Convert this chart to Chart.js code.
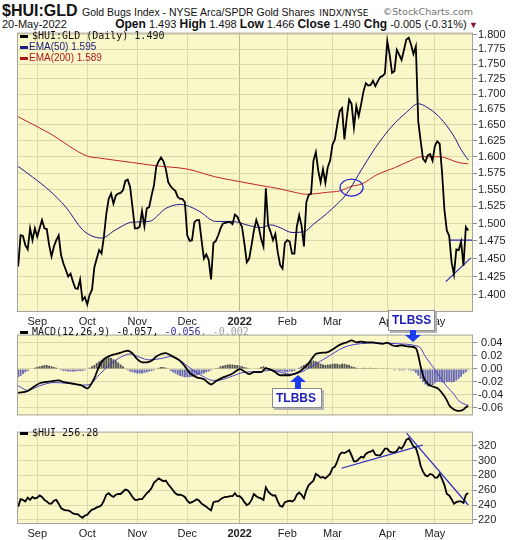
<!DOCTYPE html>
<html>
<head>
<meta charset="utf-8">
<script src="https://cdn.jsdelivr.net/npm/chart.js@4.4.0/dist/chart.umd.min.js"></script>
<style>
  body { margin: 0; width: 520px; height: 540px; background: #fff; position: relative; overflow: hidden;
         font-family: "Liberation Sans", Arial, sans-serif; color: #111; }
  .abs { position: absolute; white-space: nowrap; }
  canvas { position: absolute; left: 0; }
  .mono { font-family: "DejaVu Sans Mono", monospace; font-size: 10px; }
  .dash { display: inline-block; width: 8px; height: 3px; vertical-align: middle; margin-right: 4px; }
  .note { position: absolute; background: #fff; border: 1px solid #8c8c8c; box-shadow: 2px 2px 0 #b4b4b4;
          color: #1e1eb0; font-weight: bold; font-size: 12px; line-height: 18px; padding-left: 3px; z-index: 5; }
  svg { position: absolute; z-index: 6; }
</style>
</head>
<body>
<div class="abs" style="left:2px;top:2px;">
  <b style="font-size:16px;">$HUI:GLD</b>
  <span style="font-size:10.5px;">Gold Bugs Index - NYSE Arca/SPDR Gold Shares</span>
  <span style="font-family:'DejaVu Sans';font-size:9px;">INDX/NYSE</span>
</div>
<div class="abs" style="right:47px;top:6px;font-family:'DejaVu Sans';font-size:9.5px;color:#707070;">&copy;StockCharts.com</div>
<div class="abs" style="left:2px;top:18px;font-size:11px;">20-May-2022</div>
<div class="abs" style="right:42px;top:17px;font-size:11px;">
  <b style="font-size:12px;">Open</b> 1.493 <b style="font-size:12px;">High</b> 1.498 <b style="font-size:12px;">Low</b> 1.466
  <b style="font-size:12px;">Close</b> 1.490 <b style="font-size:12px;">Chg</b> -0.005 (-0.31%)<span style="color:#8b1030;font-size:9px;"> &#9660;</span>
</div>

<canvas id="mainChart" width="520" height="302" style="top:25px;"></canvas>
<canvas id="macdChart" width="520" height="96" style="top:327px;"></canvas>
<canvas id="huiChart" width="520" height="116" style="top:424px;"></canvas>

<div class="abs mono" style="left:20px;top:30px;line-height:11px;z-index:4;">
  <div><span class="dash" style="background:#000;"></span>$HUI:GLD (Daily) 1.490</div>
  <div style="font-family:'Liberation Sans';font-size:10px;color:#1a1a80;"><span class="dash" style="background:#1a1a80;margin-right:1px;"></span>EMA(50) 1.595</div>
  <div style="font-family:'Liberation Sans';font-size:10px;color:#b01818;"><span class="dash" style="background:#b01818;margin-right:1px;"></span>EMA(200) 1.589</div>
</div>
<div class="abs mono" style="left:20px;top:326px;line-height:11px;z-index:4;">
  <span class="dash" style="background:#000;"></span>MACD(12,26,9) -0.057, <span style="color:#3a2f9e;">-0.056</span><span style="color:#a0a0a0;">, -0.002</span>
</div>
<div class="abs mono" style="left:20px;top:427px;line-height:11px;z-index:4;">
  <span class="dash" style="background:#000;"></span>$HUI 256.28
</div>

<div class="note" style="left:388px;top:310px;width:42px;height:19px;">TLBSS</div>
<svg style="left:405px;top:330px;" width="16" height="12"><polygon points="5,0 11,0 11,5 16,5 8,12 0,5 5,5" fill="#1d3cf2"/></svg>
<div class="note" style="left:272px;top:388px;width:45px;height:18px;">TLBBS</div>
<svg style="left:290px;top:375px;" width="16" height="14"><polygon points="8,0 16,7 11,7 11,14 5,14 5,7 0,7" fill="#1d3cf2"/></svg>

<script>
// trading-day index 0 = 20-Aug-2021 ... 189 = 20-May-2022
const monthTickIdx = [8, 29, 50, 71, 93, 113, 132, 155, 175];
const monthTickLbl = ['Sep', 'Oct', 'Nov', 'Dec', '2022', 'Feb', 'Mar', 'Apr', 'May'];

const ratioTicks = [1.400, 1.425, 1.450, 1.475, 1.500, 1.525, 1.550, 1.575, 1.600, 1.625, 1.650, 1.675, 1.700, 1.725, 1.750, 1.775, 1.800];
const macdTicks = [-0.06, -0.04, -0.02, 0, 0.02, 0.04];
const huiTicks = [220, 240, 260, 280, 300, 320];

// $HUI:GLD daily close
const hlgClose = [
  1.439, 1.483, 1.482, 1.469, 1.463, 1.493, 1.476, 1.493, 1.481, 1.493,
  1.505, 1.493, 1.492, 1.469, 1.453, 1.467, 1.476, 1.483, 1.455, 1.443,
  1.434, 1.425, 1.429, 1.418, 1.409, 1.408, 1.421, 1.393, 1.397, 1.387,
  1.400, 1.407, 1.438, 1.450, 1.462, 1.457, 1.481, 1.514, 1.536, 1.544,
  1.529, 1.541, 1.544, 1.545, 1.549, 1.563, 1.565, 1.554, 1.524, 1.493,
  1.493, 1.495, 1.518, 1.496, 1.522, 1.524, 1.541, 1.556, 1.585, 1.593,
  1.599, 1.593, 1.581, 1.561, 1.555, 1.551, 1.548, 1.539, 1.536, 1.536,
  1.531, 1.483, 1.475, 1.476, 1.502, 1.505, 1.505, 1.476, 1.450, 1.456,
  1.448, 1.421, 1.472, 1.475, 1.483, 1.493, 1.500, 1.501, 1.502, 1.502,
  1.499, 1.513, 1.510, 1.502, 1.495, 1.471, 1.445, 1.450, 1.469, 1.490,
  1.505, 1.495, 1.478, 1.467, 1.552, 1.497, 1.488, 1.476, 1.485, 1.459,
  1.441, 1.436, 1.472, 1.476, 1.474, 1.457, 1.457, 1.495, 1.512, 1.497,
  1.467, 1.531, 1.542, 1.544, 1.594, 1.607, 1.579, 1.561, 1.581, 1.560,
  1.584, 1.594, 1.619, 1.627, 1.651, 1.672, 1.677, 1.627, 1.662, 1.691,
  1.684, 1.646, 1.680, 1.664, 1.683, 1.704, 1.718, 1.714, 1.715, 1.722,
  1.713, 1.721, 1.728, 1.730, 1.734, 1.789, 1.766, 1.735, 1.738, 1.774,
  1.766, 1.757, 1.774, 1.792, 1.795, 1.783, 1.767, 1.780, 1.656, 1.625,
  1.597, 1.592, 1.602, 1.604, 1.594, 1.617, 1.624, 1.620, 1.576, 1.520,
  1.490, 1.482, 1.445, 1.428, 1.463, 1.462, 1.474, 1.440, 1.495, 1.490
];

// [day index, value] read along the moving averages
const ema50 = [
  [0, 1.585], [6, 1.569], [13, 1.549], [20, 1.524], [27, 1.491], [31, 1.482], [35, 1.479],
  [41, 1.491], [48, 1.502], [55, 1.503], [62, 1.522], [68, 1.528], [71, 1.526], [76, 1.518],
  [83, 1.503], [90, 1.503], [97, 1.497], [102, 1.494], [106, 1.498], [110, 1.494], [115, 1.487],
  [120, 1.488], [124, 1.499], [127, 1.507], [132, 1.522], [138, 1.544], [143, 1.573], [150, 1.614],
  [157, 1.648], [163, 1.670], [168, 1.684], [171, 1.680], [177, 1.662], [183, 1.632], [186, 1.611],
  [189, 1.595]
];
const ema200 = [
  [0, 1.663], [13, 1.637], [29, 1.601], [34, 1.598], [48, 1.591], [58, 1.586], [71, 1.581],
  [83, 1.569], [93, 1.562], [102, 1.556], [110, 1.551], [116, 1.546], [121, 1.543], [130, 1.546],
  [135, 1.548], [140, 1.555], [144, 1.558], [151, 1.573], [158, 1.583], [166, 1.596], [169, 1.600],
  [177, 1.600], [185, 1.591], [189, 1.589]
];

// hand-drawn annotations, in [day index, value]
const ratioFlatLine = [[181, 1.476], [191, 1.476]];
const ratioRiseLine = [[179.6, 1.418], [190.1, 1.451]];
const emaCrossMark = [140, 1.553];
const huiRiseLine = [[135.8, 289.7], [169.8, 320.8]];
const huiFallLine = [[163.1, 337.0], [189, 240.2]];

const macdLine = [
  [0, -0.037], [4, -0.034], [6, -0.029], [9, -0.022], [12, -0.020], [15, -0.0185], [17, -0.0176],
  [19, -0.020], [22, -0.022], [25, -0.024], [27, -0.026], [29, -0.030], [30, -0.027], [32, -0.014],
  [34, 0.004], [36, 0.015], [39, 0.021], [41, 0.023], [43, 0.025], [45, 0.0275], [46, 0.028],
  [48, 0.024], [50, 0.015], [52, 0.010], [54, 0.010], [56, 0.0125], [58, 0.019], [60, 0.023],
  [62, 0.0245], [64, 0.021], [66, 0.017], [68, 0.0125], [70, 0.004], [72, -0.006], [75, -0.013],
  [78, -0.016], [80, -0.022], [81, -0.024], [83, -0.019], [86, -0.013], [89, -0.009], [90, -0.007],
  [92, -0.002], [93, -0.0004], [95, -0.004], [97, -0.008], [99, -0.005], [102, -0.005], [104, 0.001],
  [106, -0.001], [108, -0.005], [110, -0.0097], [114, -0.0097], [116, -0.0075], [118, -0.0044],
  [120, 0.0013], [122, 0.009], [124, 0.019], [125, 0.023], [127, 0.0246], [130, 0.026], [132, 0.030],
  [134, 0.035], [136, 0.0387], [138, 0.041], [140, 0.044], [142, 0.041], [144, 0.042], [146, 0.041],
  [149, 0.041], [151, 0.0396], [153, 0.0387], [155, 0.0405], [157, 0.0365], [159, 0.035], [161, 0.0365],
  [163, 0.035], [165, 0.0343], [167, 0.032], [168, 0.021], [169, 0.004], [170, -0.010], [171, -0.018],
  [172, -0.023], [174, -0.027], [176, -0.0295], [178, -0.037], [180, -0.048], [181, -0.056],
  [183, -0.0625], [185, -0.0647], [187, -0.0625], [188, -0.059], [189, -0.057]
];
const macdSignal = [
  [0, -0.026], [4, -0.033], [9, -0.026], [15, -0.021], [20, -0.022], [27, -0.025], [30, -0.024],
  [34, -0.009], [39, 0.008], [43, 0.018], [47, 0.023], [51, 0.018], [55, 0.014], [60, 0.016],
  [64, 0.019], [68, 0.013], [72, 0.002], [76, -0.008], [82, -0.0176], [85, -0.017], [90, -0.011],
  [95, -0.005], [102, -0.004], [106, -0.002], [110, -0.005], [114, -0.008], [118, -0.006],
  [122, 0.001], [127, 0.012], [131, 0.021], [135, 0.030], [139, 0.036], [144, 0.039], [149, 0.040],
  [155, 0.0396], [160, 0.0387], [166, 0.0365], [169, 0.032], [171, 0.019], [174, 0.004],
  [177, -0.012], [180, -0.027], [183, -0.039], [185, -0.049], [188, -0.055], [189, -0.056]
];
const macdHist = [
  -0.013, -0.011, -0.008, -0.005, -0.003, -0.001, 0.000, 0.002, 0.003, 0.004,
  0.005, 0.006, 0.006, 0.005, 0.004, 0.003, 0.002, -0.001, -0.002, -0.003,
  -0.003, -0.004, -0.004, -0.004, -0.004, -0.003, -0.003, -0.003, -0.002, -0.001,
  0.002, 0.004, 0.006, 0.009, 0.012, 0.014, 0.016, 0.017, 0.018, 0.017,
  0.015, 0.013, 0.010, 0.007, 0.004, 0.001, -0.002, -0.004, -0.005, -0.006,
  -0.007, -0.007, -0.007, -0.006, -0.005, -0.004, -0.003, -0.002, -0.001, 0.002,
  0.003, 0.003, 0.002, -0.001, -0.003, -0.005, -0.007, -0.009, -0.011, -0.012,
  -0.013, -0.013, -0.013, -0.012, -0.011, -0.010, -0.009, -0.008, -0.007, -0.005,
  -0.004, -0.002, -0.001, 0.001, 0.002, 0.004, 0.005, 0.006, 0.007, 0.007,
  0.007, 0.006, 0.006, 0.005, 0.004, 0.003, 0.002, 0.001, 0.000, -0.001,
  -0.001, 0.001, 0.003, 0.004, 0.003, 0.001, -0.001, -0.002, -0.003, -0.003,
  -0.004, -0.004, -0.005, -0.005, -0.004, -0.004, -0.003, -0.001, 0.002, 0.004,
  0.006, 0.008, 0.010, 0.012, 0.013, 0.012, 0.010, 0.008, 0.007, 0.006,
  0.007, 0.007, 0.008, 0.008, 0.008, 0.007, 0.008, 0.008, 0.007, 0.006,
  0.004, 0.003, 0.002, 0.001, 0.001, 0.002, 0.001, 0.001, 0.002, 0.001,
  0.001, 0.001, 0.000, 0.001, 0.000, 0.001, -0.001, -0.001, -0.002, -0.001,
  -0.002, -0.002, -0.002, -0.001, -0.002, -0.002, -0.003, -0.006, -0.010, -0.015,
  -0.020, -0.024, -0.027, -0.027, -0.025, -0.022, -0.020, -0.020, -0.021, -0.021,
  -0.020, -0.020, -0.021, -0.020, -0.018, -0.015, -0.012, -0.008, -0.005, -0.002
];

// $HUI daily close
const huiClose = [
  238, 248, 247, 245, 250, 247, 251, 249, 250, 253,
  251, 247, 245, 242, 242, 246, 247, 242, 236, 234,
  233, 233, 231, 229, 228, 228, 225, 223, 226, 227,
  231, 234, 235, 237, 238, 240, 246, 254, 256, 253,
  251, 254, 255, 255, 258, 261, 260, 256, 251, 247,
  247, 248, 248, 252, 256, 259, 263, 270, 273, 276,
  274, 272, 273, 268, 264, 260, 256, 254, 254, 253,
  251, 246, 243, 244, 246, 248, 246, 242, 240, 238,
  235, 233, 244, 245, 245, 248, 250, 251, 251, 252,
  252, 256, 252, 252, 249, 244, 240, 242, 247, 255,
  252, 250, 249, 247, 264, 258, 255, 253, 253, 245,
  239, 238, 244, 245, 246, 245, 247, 254, 257, 254,
  249, 260, 267, 270, 273, 282, 280, 277, 278, 276,
  279, 282, 290, 292, 299, 308, 311, 310, 312, 314,
  307, 299, 299, 302, 305, 304, 309, 311, 312, 314,
  308, 307, 307, 311, 316, 316, 312, 311, 311, 313,
  318, 316, 321, 328, 330, 325, 319, 317, 307, 293,
  285, 280, 279, 282, 281, 277, 277, 282, 275, 267,
  255, 253, 248, 242, 244, 245, 245, 243, 254, 256.28
];

const YELLOW = '#faf7c9';
const GRID = '#dcd8ab';
const YEAR_GRID = '#bdb98e';
const EDGE = '#a3a3a3';
const FONT = "'Liberation Sans', Arial, sans-serif";

const pts = arr => arr.map(([x, y]) => ({ x, y }));
const series = arr => arr.map((y, x) => ({ x, y }));

const panelFrame = {
  id: 'panelFrame',
  beforeDraw(c) {
    const a = c.chartArea, ctx = c.ctx;
    ctx.save();
    ctx.fillStyle = YELLOW;
    ctx.fillRect(a.left, a.top, a.width, a.height);
    ctx.restore();
  },
  afterDraw(c) {
    const a = c.chartArea, ctx = c.ctx;
    ctx.save();
    ctx.strokeStyle = EDGE;
    ctx.lineWidth = 1;
    ctx.strokeRect(a.left + 0.5, a.top + 0.5, a.width - 1, a.height - 1);
    ctx.restore();
  }
};

const crossMark = {
  id: 'crossMark',
  afterDatasetsDraw(c) {
    const ctx = c.ctx;
    const px = c.scales.x.getPixelForValue(emaCrossMark[0]);
    const py = c.scales.y.getPixelForValue(emaCrossMark[1]);
    ctx.save();
    ctx.strokeStyle = '#2a2ad0';
    ctx.lineWidth = 1.3;
    ctx.beginPath();
    ctx.ellipse(px, py, 11.5, 8.5, 0, 0, Math.PI * 2);
    ctx.stroke();
    ctx.restore();
  }
};

function xAxis(showLabels, height) {
  return {
    type: 'linear', min: -0.5, max: 191, offset: false,
    afterBuildTicks: s => { s.ticks = monthTickIdx.map(v => ({ value: v })); },
    afterFit: s => { s.height = height; },
    border: { display: false },
    grid: {
      drawTicks: false, offset: false,
      color: c => (c.tick && c.tick.value === 93) ? YEAR_GRID : GRID
    },
    ticks: {
      display: showLabels, autoSkip: false, maxRotation: 0, padding: 3, color: '#222',
      font: c => ({ family: FONT, size: 11, weight: (c.tick && c.tick.value === 93) ? 'bold' : 'normal' }),
      callback: (v, i) => monthTickLbl[i]
    }
  };
}

function yAxis(type, min, max, tickVals, fmt) {
  return {
    type, position: 'right', min, max,
    afterBuildTicks: s => { s.ticks = tickVals.map(v => ({ value: v })); },
    afterFit: s => { s.width = 47; },
    border: { display: false },
    grid: { color: GRID, tickColor: '#8c8c8c', tickLength: 4 },
    ticks: { autoSkip: false, padding: 1, color: '#222', font: { family: FONT, size: 11 }, callback: fmt }
  };
}

function lineSet(data, color, width, smooth) {
  return {
    type: 'line', data, borderColor: color, borderWidth: width, pointRadius: 0,
    tension: 0, cubicInterpolationMode: smooth ? 'monotone' : 'default', fill: false
  };
}

const baseOpts = {
  responsive: false, animation: false, events: [],
  plugins: { legend: { display: false }, tooltip: { enabled: false } }
};

new Chart(document.getElementById('mainChart'), {
  type: 'line',
  data: {
    datasets: [
      lineSet(series(hlgClose), '#000', 1.8, false),
      lineSet(pts(ratioFlatLine), '#2b2bc4', 1.2, false),
      lineSet(pts(ratioRiseLine), '#2b2bc4', 1.2, false),
      lineSet(pts(ema50), '#1a1a8c', 1, true),
      lineSet(pts(ema200), '#c02424', 1, true)
    ]
  },
  options: {
    ...baseOpts,
    layout: { padding: { left: 17, top: 6, right: 0, bottom: 0 } },
    scales: {
      x: xAxis(true, 15),
      y: yAxis('logarithmic', 1.377, 1.804, ratioTicks, v => v.toFixed(3))
    }
  },
  plugins: [panelFrame, crossMark]
});

new Chart(document.getElementById('macdChart'), {
  type: 'line',
  data: {
    datasets: [
      lineSet(pts(macdLine), '#000', 1.8, true),
      lineSet(pts(macdSignal), '#4a3fc8', 1, true),
      {
        type: 'bar', data: series(macdHist),
        backgroundColor: macdHist.map(v => v >= 0 ? '#555555' : '#6a6ab2'),
        barPercentage: 1, categoryPercentage: 0.8
      }
    ]
  },
  options: {
    ...baseOpts,
    layout: { padding: { left: 17, top: 0, right: 0, bottom: 0 } },
    scales: {
      x: xAxis(false, 0),
      y: yAxis('linear', -0.0716, 0.0529, macdTicks, v => (v >= 0 ? ' ' : '') + v.toFixed(2))
    }
  },
  plugins: [panelFrame]
});

new Chart(document.getElementById('huiChart'), {
  type: 'line',
  data: {
    datasets: [
      lineSet(series(huiClose), '#000', 1.8, false),
      lineSet(pts(huiRiseLine), '#2b2bc4', 1.2, false),
      lineSet(pts(huiFallLine), '#2b2bc4', 1.2, false)
    ]
  },
  options: {
    ...baseOpts,
    layout: { padding: { left: 17, top: 1, right: 0, bottom: 0 } },
    scales: {
      x: xAxis(true, 16),
      y: yAxis('linear', 214.6, 339, huiTicks, v => String(v))
    }
  },
  plugins: [panelFrame]
});
</script>
</body>
</html>
